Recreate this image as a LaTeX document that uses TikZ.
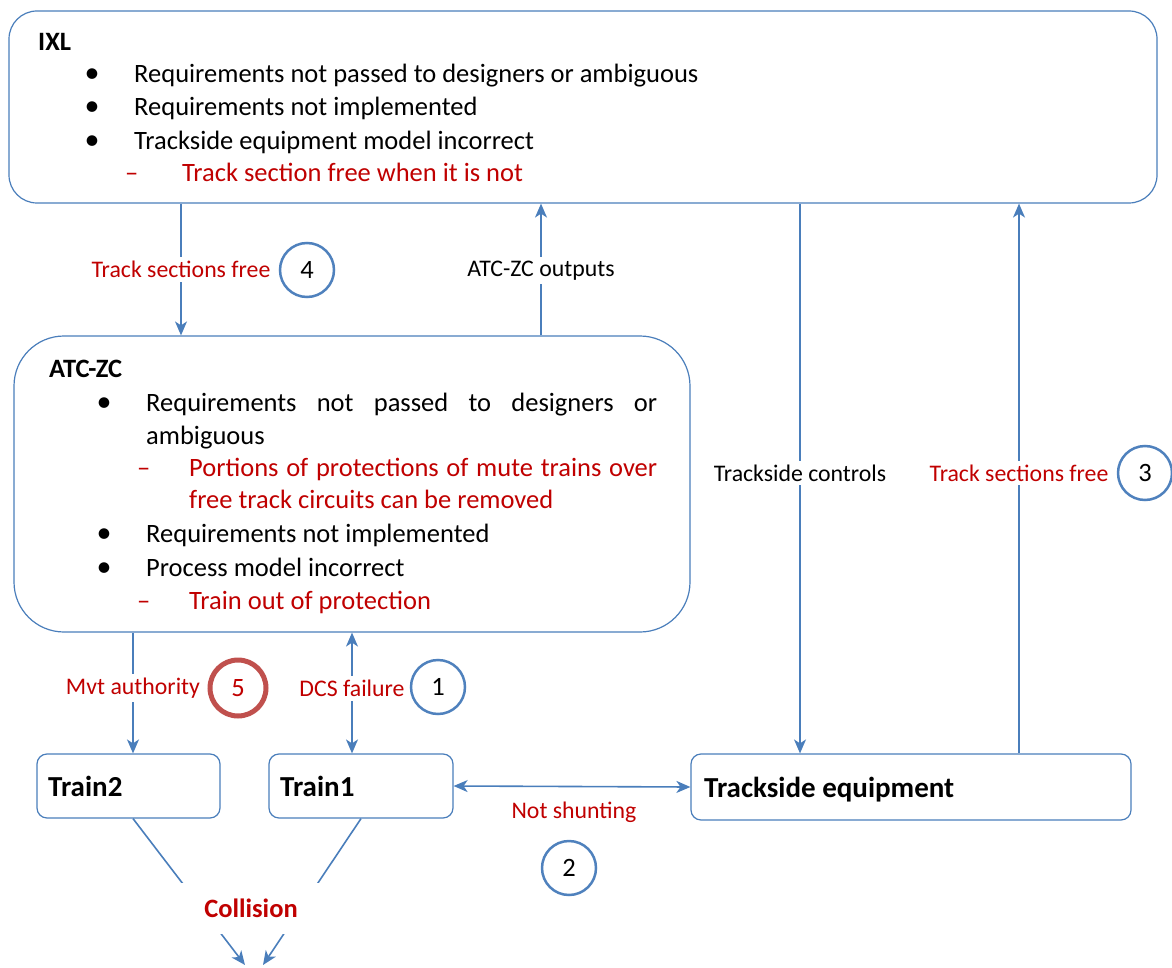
\documentclass[tikz,border=0pt]{standalone}
\usepackage{fontspec}
\setmainfont{Carlito}
\usetikzlibrary{arrows.meta}
\definecolor{lineblue}{HTML}{4A7EBB}
\definecolor{ringblue}{HTML}{4F81BD}
\definecolor{alertred}{HTML}{C00000}
\definecolor{ringred}{HTML}{C0504D}
\begin{document}
\begin{tikzpicture}[x=1pt,y=-1pt,
  box/.style={draw=lineblue, line width=1.2pt, fill=white, inner sep=0pt},
  tip/.tip={Stealth[length=14pt,width=12pt,inset=4pt]},
  conn/.style={draw=lineblue, line width=1.6pt, -tip},
  twoway/.style={draw=lineblue, line width=1.6pt, tip-tip},
  body/.style={font=\fontsize{26.5}{33}\selectfont, anchor=base west, inner sep=0pt},
  head/.style={body, font=\fontsize{26.5}{33}\selectfont\bfseries},
  boxhead/.style={body, font=\fontsize{29}{35}\selectfont\bfseries},
  bul/.style={font=\fontsize{30}{33}\selectfont, anchor=base, inner sep=0pt},
  subdash/.style={body, text=alertred},
  warn/.style={body, text=alertred},
  lbl/.style={font=\fontsize{23.8}{28}\selectfont, fill=white, inner xsep=3pt, inner ysep=4pt},
  ring/.style={circle, draw=ringblue, line width=2.5pt, minimum size=54pt, inner sep=0pt,
               font=\fontsize{26.5}{30}\selectfont},
]
\useasboundingbox (0,0) rectangle (1172,968);

% ---------- boxes ----------
\node[box, rounded corners=28pt, minimum width=1148pt, minimum height=192pt] (ixl) at (583,107) {};
\node[box, rounded corners=50pt, minimum width=676pt, minimum height=296pt] (atc) at (352,484) {};
\node[box, rounded corners=10pt, minimum width=183pt, minimum height=64pt] (tr2) at (128.5,786) {};
\node[box, rounded corners=10pt, minimum width=184pt, minimum height=64pt] (tr1) at (361,786) {};
\node[box, rounded corners=10pt, minimum width=440pt, minimum height=66pt] (tse) at (911,787) {};

% ---------- IXL contents ----------
\node[head] (ixlT) at (38,51) {IXL};
\node[bul] (ib1) at (92,83) {•};
\node[body] (ix1) at (134,83) {Requirements not passed to designers or ambiguous};
\node[bul] (ib2) at (92,116) {•};
\node[body] (ix2) at (134,116) {Requirements not implemented};
\node[bul] (ib3) at (92,150) {•};
\node[body] (ix3) at (134,150) {Trackside equipment model incorrect};
\node[subdash] (id1) at (125,182) {–};
\node[warn] (ix4) at (182,182) {Track section free when it is not};

% ---------- ATC-ZC contents ----------
\node[head] (atcT) at (49,377) {ATC-ZC};
\node[bul] (ab1) at (104,411) {•};
\node[body] (a1) at (146,411) {\makebox[511pt][s]{Requirements not passed to designers or}};
\node[body] (a2) at (146,444) {ambiguous};
\node[subdash] (ad1) at (137,476) {–};
\node[warn] (a3) at (189,476) {\makebox[468pt][s]{Portions of protections of mute trains over}};
\node[warn] (a4) at (189,508) {free track circuits can be removed};
\node[bul] (ab2) at (104,542) {•};
\node[body] (a5) at (146,542) {Requirements not implemented};
\node[bul] (ab3) at (104,576) {•};
\node[body] (a6) at (146,576) {Process model incorrect};
\node[subdash] (ad2) at (137,609) {–};
\node[warn] (a7) at (189,609) {Train out of protection};

% ---------- box titles ----------
\node[boxhead] (tr2T) at (48,796) {Train2};
\node[boxhead] (tr1T) at (280,796) {Train1};
\node[boxhead] (tseT) at (704,797) {Trackside equipment};

% ---------- connector columns ----------
\coordinate (xa) at (181,0);
\coordinate (xb) at (541,0);
\coordinate (xc) at (800,0);
\coordinate (xd) at (1019,0);
\coordinate (xe) at (133,0);
\coordinate (xf) at (352,0);

\draw[conn] (ixl.south -| xa) -- node[lbl, text=alertred, pos=.5] (l4) {Track sections free} (atc.north -| xa);
\draw[conn] (atc.north -| xb) -- node[lbl, pos=.49] (lout) {ATC-ZC outputs} (ixl.south -| xb);
\draw[conn] (ixl.south -| xc) -- node[lbl, pos=.49] (lctl) {Trackside controls} (tse.north -| xc);
\draw[conn] (tse.north -| xd) -- node[lbl, text=alertred, pos=.51] (l3) {Track sections free} (ixl.south -| xd);
\draw[conn] (atc.south -| xe) -- node[lbl, text=alertred, pos=.46] (l5) {Mvt authority} (tr2.north -| xe);
\draw[twoway] (atc.south -| xf) -- node[lbl, text=alertred, pos=.46] (l1) {DCS failure} (tr1.north -| xf);
\draw[twoway] (tr1.east) -- (tse.west);
\node[font=\fontsize{23.8}{28}\selectfont, text=alertred] (l2) at (574,812) {Not shunting};

% ---------- numbered rings ----------
\node[ring] (n4) at (307,270) {4};
\node[ring] (n3) at (1145,473) {3};
\node[ring, draw=ringred, line width=5pt, minimum size=56pt] (n5) at (238,688) {\textcolor{alertred}{5}};
\node[ring] (n1) at (438,687) {1};
\node[ring] (n2) at (569,868) {2};

% ---------- collision ----------
\coordinate (hitL) at (245,965);
\coordinate (hitR) at (263,965);
\draw[conn] (tr2.south -| xe) -- (hitL);
\draw[conn] (tr1.south) -- (hitR);
\node[fill=white, minimum width=140pt, minimum height=51pt, inner sep=0pt,
      font=\fontsize{26.5}{30}\selectfont\bfseries, text=alertred] (col) at (251,908) {Collision};
\end{tikzpicture}
\end{document}
